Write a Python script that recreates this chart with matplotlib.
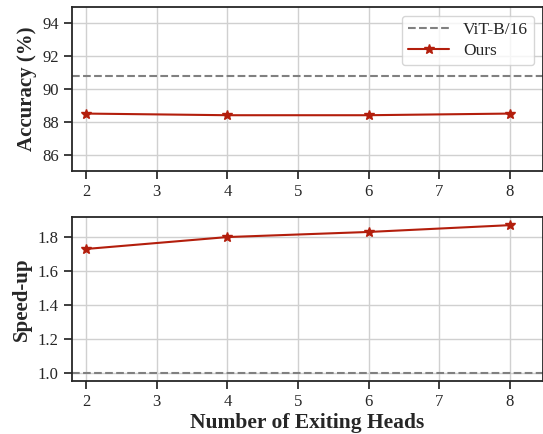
import matplotlib
matplotlib.use('Agg')
import matplotlib.pyplot as plt
import seaborn as sns

heads = [2, 4, 6, 8]
acc_ours = [88.5, 88.4, 88.4, 88.5]
acc_vit = 90.8
speed_ours = [1.73, 1.80, 1.83, 1.87]
speed_vit = 1.0

sns.set_theme(style='ticks')
plt.rcParams['font.family'] = ['Liberation Serif', 'DejaVu Serif']
plt.rcParams['axes.edgecolor'] = '#262626'
plt.rcParams['axes.linewidth'] = 1.3

red = '#b31e0c'
grey = '#808080'

fig = plt.figure(figsize=(5.43, 4.34), dpi=100)
ax1 = fig.add_axes([0.1326, 0.606, 0.8674, 0.378])
ax2 = fig.add_axes([0.1326, 0.122, 0.8674, 0.378])

ax1.axhline(acc_vit, color=grey, ls='--', lw=1.5, label='ViT-B/16')
ax1.plot(heads, acc_ours, color=red, marker='*', ms=7, lw=1.5, label='Ours')
ax1.set_ylim(85, 95)
ax1.set_yticks([86, 88, 90, 92, 94])
ax1.set_ylabel('Accuracy (%)', fontsize=15, fontweight='bold', labelpad=4)
ax1.legend(loc='upper right', fontsize=12.5, framealpha=0.8, labelspacing=0.3,
           borderpad=0.35, bbox_to_anchor=(1.0, 1.0), handlelength=2.4)

ax2.axhline(speed_vit, color=grey, ls='--', lw=1.5)
ax2.plot(heads, speed_ours, color=red, marker='*', ms=7, lw=1.5)
ax2.set_ylim(0.953, 1.918)
ax2.set_yticks([1.0, 1.2, 1.4, 1.6, 1.8])
ax2.set_ylabel('Speed-up', fontsize=15, fontweight='bold', labelpad=4)
ax2.set_xlabel('Number of Exiting Heads', fontsize=15.5, fontweight='bold', labelpad=2)

for ax in (ax1, ax2):
    ax.set_xlim(1.8, 8.47)
    ax.set_xticks(range(2, 9))
    ax.grid(True, color='#d0d0d0', lw=1.0)
    ax.tick_params(labelsize=12, colors='#262626')

fig.savefig('out.png', dpi=100)
